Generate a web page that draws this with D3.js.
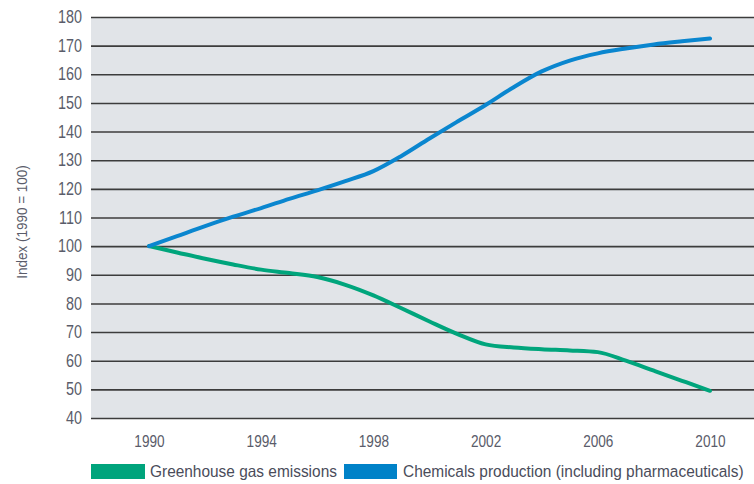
<!DOCTYPE html>
<html>
<head>
<meta charset="utf-8">
<script src="https://cdn.jsdelivr.net/npm/d3@7"></script>
<style>
  html, body { margin: 0; padding: 0; background: #fff; }
  svg { display: block; }
  text { font-family: "Liberation Sans", Arial, sans-serif; }
</style>
</head>
<body>
<svg id="chart" width="754" height="484"></svg>
<script>
// Index values (1990 = 100), yearly
const years = d3.range(1990, 2011);
const greenhouseGas = [100, 97.8, 95.6, 93.6, 91.8, 90.6, 89.2, 86.5, 82.8, 78.3, 73.7,
                       69.3, 65.7, 64.6, 64.0, 63.6, 63.0, 60.0, 56.5, 53.0, 49.5];
const chemicals = [100, 103.5, 107, 110.3, 113.3, 116.5, 119.5, 122.7, 126.2, 131.5, 137.6,
                   143.5, 149.3, 155.5, 161.0, 164.8, 167.3, 169.0, 170.4, 171.5, 172.5];
const xTicks = [1990, 1994, 1998, 2002, 2006, 2010];
const yTicks = d3.range(40, 181, 10);
const seriesNames = ["Greenhouse gas emissions", "Chemicals production (including pharmaceuticals)"];
const seriesColors = ["#00a57c", "#0a86cf"];
const legendColors = ["#00a47c", "#0082c8"];

const svg = d3.select("#chart");
const plot = { left: 91, right: 754, top: 17, bottom: 418 };
const labelColor = "#5a5c6a";

const x = d3.scaleLinear().domain([1990, 2010]).range([149, 710]);
const y = d3.scaleLinear().domain([40, 180]).range([plot.bottom, plot.top]);

// narrow the text horizontally to give a condensed face
function condense(sel, factor) {
  sel.each(function () {
    const w = this.getComputedTextLength();
    d3.select(this).attr("textLength", w * factor).attr("lengthAdjust", "spacingAndGlyphs");
  });
}

// plot background
svg.append("rect")
  .attr("x", plot.left).attr("y", plot.top)
  .attr("width", plot.right - plot.left).attr("height", plot.bottom - plot.top)
  .attr("fill", "#e1e4e8");

// horizontal gridlines with value labels on the left
const yAxis = d3.axisLeft(y).tickValues(yTicks).tickSize(-(plot.right - plot.left)).tickPadding(9);
const gy = svg.append("g").attr("transform", `translate(${plot.left},0)`).call(yAxis);
gy.select(".domain").remove();
gy.selectAll(".tick line").attr("stroke", "#3c3c3c").attr("stroke-width", 1.6);
gy.selectAll(".tick text")
  .attr("font-size", 17.5).attr("fill", labelColor).attr("font-weight", 500)
  .style("font-family", '"Liberation Sans", Arial, sans-serif')
  .call(condense, 0.82);

// year labels below the plot
const xAxis = d3.axisBottom(x).tickValues(xTicks).tickFormat(d3.format("d")).tickSize(0).tickPadding(17);
const gx = svg.append("g").attr("transform", `translate(0,${plot.bottom})`).call(xAxis);
gx.select(".domain").remove();
gx.selectAll(".tick text")
  .attr("font-size", 17).attr("fill", labelColor)
  .style("font-family", '"Liberation Sans", Arial, sans-serif')
  .call(condense, 0.8);

// y-axis title
svg.append("text")
  .attr("transform", `translate(27,222) rotate(-90)`)
  .attr("text-anchor", "middle")
  .attr("font-size", 15).attr("fill", labelColor)
  .text("Index (1990 = 100)")
  .call(condense, 0.9);

// series lines
const line = d3.line().x((d, i) => x(years[i])).y(d => y(d)).curve(d3.curveMonotoneX);
[greenhouseGas, chemicals].forEach((vals, k) => {
  svg.append("path")
    .datum(vals)
    .attr("d", line)
    .attr("fill", "none")
    .attr("stroke", seriesColors[k])
    .attr("stroke-width", 4)
    .attr("stroke-linecap", "round")
    .attr("stroke-linejoin", "round");
});

// legend: swatch + label, labels squeezed horizontally to a set width
const lg = svg.append("g");
const items = [
  { sx: 91, sw: 54, tx: 150, tw: 187 },
  { sx: 344, sw: 53, tx: 403, tw: 341 }
];
items.forEach((it, k) => {
  lg.append("rect").attr("x", it.sx).attr("y", 464).attr("width", it.sw).attr("height", 15)
    .attr("fill", legendColors[k]);
  const t = lg.append("text")
    .attr("font-size", 16.5).attr("fill", "#4a4c5a")
    .text(seriesNames[k]);
  const natural = t.node().getComputedTextLength();
  t.attr("transform", `translate(${it.tx},477) scale(${it.tw / natural},1)`);
});
</script>
</body>
</html>
